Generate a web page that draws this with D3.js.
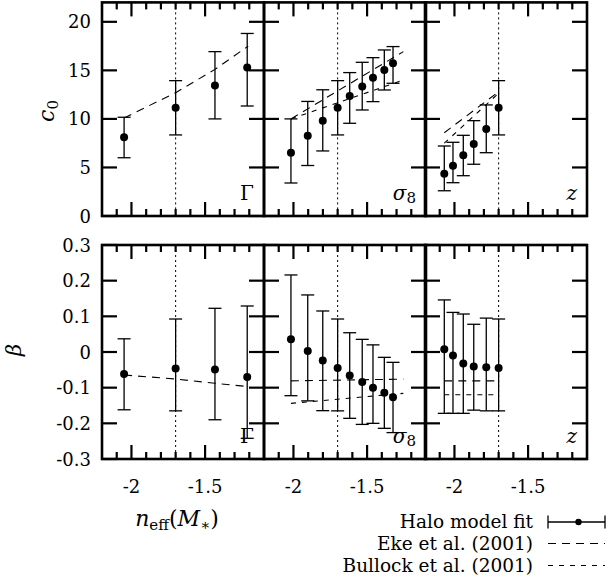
<!DOCTYPE html>
<html><head><meta charset="utf-8">
<script src="https://cdn.jsdelivr.net/npm/d3@7"></script>
<style>body{margin:0;background:#fff} text{font-family:"DejaVu Serif",serif;fill:#000}</style>
</head><body><svg id="c" width="609" height="588"></svg>
<script>
// ---------------- data ----------------
const xMajorTicks = [-2, -1.5];
const xTickLabels = ["-2", "-1.5"];
const cTicks = [0, 5, 10, 15, 20];
const cTickLabels = ["0", "5", "10", "15", "20"];
const bTicks = [-0.3, -0.2, -0.1, 0, 0.1, 0.2, 0.3];
const bTickLabels = ["-0.3", "-0.2", "-0.1", "0", "0.1", "0.2", "0.3"];
const fiducialN = -1.7;
const panelNames = ["Γ", "σ8", "z"];

// Gamma panel
const nGamma   = [-2.05, -1.70, -1.433, -1.214];
const cGamma   = [8.1, 11.16, 13.43, 15.3];
const cGammaLo = [6.0, 8.35, 10.0, 11.33];
const cGammaHi = [10.17, 13.94, 16.93, 18.8];
const ekeCGammaN = [-2.05, -1.70, -1.433, -1.207];
const ekeCGamma  = [10.1, 12.7, 15.1, 17.5];
const bGamma   = [-0.062, -0.046, -0.049, -0.070];
const bGammaLo = [-0.162, -0.165, -0.190, -0.242];
const bGammaHi = [0.037, 0.0925, 0.1225, 0.129];
const ekeBGammaN = [-2.05, -1.70, -1.433, -1.207];
const ekeBGamma  = [-0.0645, -0.0757, -0.0878, -0.097];

// sigma8 panel
const nSigma   = [-2.017, -1.903, -1.801, -1.70, -1.618, -1.533, -1.46, -1.383, -1.324];
const cSigma   = [6.52, 8.27, 9.82, 11.16, 12.36, 13.33, 14.25, 15.04, 15.73];
const cSigmaLo = [3.4, 5.2, 6.7, 8.35, 9.55, 10.92, 11.78, 12.98, 13.67];
const cSigmaHi = [10.0, 11.8, 13.0, 13.94, 14.77, 15.83, 16.31, 17.1, 17.45];
const ekeCSigmaN = [-2.017, -1.254];
const ekeCSigma  = [10.0, 16.93];
const bulCSigmaN = [-2.017, -1.254];
const bulCSigma  = [10.0, 14.0];
const bSigma   = [0.036, 0.003, -0.024, -0.045, -0.066, -0.084, -0.100, -0.114, -0.127];
const bSigmaLo = [-0.1225, -0.137, -0.1645, -0.165, -0.186, -0.203, -0.200, -0.214, -0.226];
const bSigmaHi = [0.216, 0.160, 0.115, 0.0925, 0.054, 0.0355, 0.020, -0.015, -0.029];
const ekeBSigmaN = [-2.017, -1.254];
const ekeBSigma  = [-0.081, -0.076];
const bulBSigmaN = [-2.017, -1.254];
const bulBSigma  = [-0.144, -0.116];

// z panel
const nZ   = [-2.069, -2.01, -1.94, -1.869, -1.784, -1.70];
const cZ   = [4.36, 5.18, 6.25, 7.42, 8.96, 11.16];
const cZLo = [2.6, 3.43, 4.15, 5.33, 6.52, 8.35];
const cZHi = [7.21, 7.59, 8.31, 9.82, 11.44, 13.94];
const ekeCZN = [-2.069, -1.70];
const ekeCZ  = [8.58, 12.8];
const bulCZN = [-2.069, -1.70];
const bulCZ  = [7.5, 12.65];
const bZ   = [0.0075, -0.010, -0.032, -0.041, -0.043, -0.045];
const bZLo = [-0.172, -0.172, -0.172, -0.163, -0.165, -0.165];
const bZHi = [0.146, 0.111, 0.1065, 0.0777, 0.095, 0.0925];
const ekeBZN = [-2.069, -1.70];
const ekeBZ  = [-0.081, -0.081];
const bulBZN = [-2.069, -1.70];
const bulBZ  = [-0.12, -0.12];

const legendLabels = ["Halo model fit", "Eke et al. (2001)", "Bullock et al. (2001)"];

// ---------------- layout ----------------
const svg = d3.select("#c");
const panelLefts = [102, 264, 425];
const panelW = 162;
const rows = [
  {top: 2.4, bottom: 216, domain: [0, 22], ticks: cTicks, labels: cTickLabels},
  {top: 245, bottom: 459, domain: [-0.3, 0.3], ticks: bTicks, labels: bTickLabels}
];
const FS = 18;
const EKE_DASH = "8,6";
const BUL_DASH = "5,6";

function zip(xs, ys) { return xs.map((x, i) => [x, ys[i]]); }

const panelData = [
  [ {n: nGamma, v: cGamma, lo: cGammaLo, hi: cGammaHi, eke: zip(ekeCGammaN, ekeCGamma), bul: null},
    {n: nSigma, v: cSigma, lo: cSigmaLo, hi: cSigmaHi, eke: zip(ekeCSigmaN, ekeCSigma), bul: zip(bulCSigmaN, bulCSigma)},
    {n: nZ, v: cZ, lo: cZLo, hi: cZHi, eke: zip(ekeCZN, ekeCZ), bul: zip(bulCZN, bulCZ)} ],
  [ {n: nGamma, v: bGamma, lo: bGammaLo, hi: bGammaHi, eke: zip(ekeBGammaN, ekeBGamma), bul: null},
    {n: nSigma, v: bSigma, lo: bSigmaLo, hi: bSigmaHi, eke: zip(ekeBSigmaN, ekeBSigma), bul: zip(bulBSigmaN, bulBSigma)},
    {n: nZ, v: bZ, lo: bZLo, hi: bZHi, eke: zip(ekeBZN, ekeBZ), bul: zip(bulBZN, bulBZ)} ]
];

rows.forEach((row, ri) => {
  const y = d3.scaleLinear().domain(row.domain).range([row.bottom, row.top]);
  panelLefts.forEach((left, pi) => {
    const x = d3.scaleLinear().domain([-2.2, -1.1]).range([left, left + panelW]);
    const g = svg.append("g");
    const d = panelData[ri][pi];
    // dotted fiducial
    g.append("line").attr("x1", x(fiducialN)).attr("x2", x(fiducialN))
      .attr("y1", row.top).attr("y2", row.bottom)
      .attr("stroke", "#000").attr("stroke-width", 1).attr("stroke-dasharray", "2,3");
    const line = d3.line().x(p => x(p[0])).y(p => y(p[1]));
    g.append("path").attr("d", line(d.eke)).attr("fill", "none")
      .attr("stroke", "#000").attr("stroke-width", 1.1).attr("stroke-dasharray", EKE_DASH);
    if (d.bul) g.append("path").attr("d", line(d.bul)).attr("fill", "none")
      .attr("stroke", "#000").attr("stroke-width", 1.1).attr("stroke-dasharray", BUL_DASH);
    // error bars
    d.n.forEach((nv, i) => {
      const cx = x(nv);
      g.append("line").attr("x1", cx).attr("x2", cx).attr("y1", y(d.lo[i])).attr("y2", y(d.hi[i]))
        .attr("stroke", "#000").attr("stroke-width", 1.3);
      [d.lo[i], d.hi[i]].forEach(e => {
        g.append("line").attr("x1", cx - 6.5).attr("x2", cx + 6.5).attr("y1", y(e)).attr("y2", y(e))
          .attr("stroke", "#000").attr("stroke-width", 1.3);
      });
      g.append("circle").attr("cx", cx).attr("cy", y(d.v[i])).attr("r", 4).attr("fill", "#000");
    });
    // x ticks
    const minor = x.ticks(11);
    minor.forEach(t => {
      if (Math.abs(t + 2.2) < 1e-6 || Math.abs(t + 1.1) < 1e-6) return;
      const major = xMajorTicks.some(m => Math.abs(m - t) < 1e-6);
      const L = major ? 14 : 7;
      g.append("line").attr("x1", x(t)).attr("x2", x(t)).attr("y1", row.bottom).attr("y2", row.bottom - L)
        .attr("stroke", "#000").attr("stroke-width", 2.2);
      g.append("line").attr("x1", x(t)).attr("x2", x(t)).attr("y1", row.top).attr("y2", row.top + L)
        .attr("stroke", "#000").attr("stroke-width", 2.2);
    });
    // y ticks
    row.ticks.forEach(t => {
      g.append("line").attr("x1", left).attr("x2", left + 15).attr("y1", y(t)).attr("y2", y(t))
        .attr("stroke", "#000").attr("stroke-width", 2.2);
      g.append("line").attr("x1", left + panelW).attr("x2", left + panelW - 15).attr("y1", y(t)).attr("y2", y(t))
        .attr("stroke", "#000").attr("stroke-width", 2.2);
    });
    // border
    g.append("rect").attr("x", left).attr("y", row.top).attr("width", panelW).attr("height", row.bottom - row.top)
      .attr("fill", "none").attr("stroke", "#000").attr("stroke-width", 2.6);
    // panel label
    const lab = g.append("text").attr("x", left + panelW - 10).attr("y", row.bottom - 16)
      .attr("text-anchor", "end").attr("font-size", 20);
    const name = panelNames[pi];
    if (name === "σ8") {
      lab.append("tspan").attr("font-style", "italic").text("σ");
      lab.append("tspan").attr("font-size", 15).attr("dy", 3).text("8");
    } else if (name === "z") {
      lab.attr("font-style", "italic").text("z");
    } else {
      lab.text(name);
    }
    // x tick labels (bottom row)
    if (ri === 1) {
      xMajorTicks.forEach((t, k) => {
        g.append("text").attr("x", x(t)).attr("y", 493).attr("text-anchor", "middle")
          .attr("font-size", FS).text(xTickLabels[k]);
      });
    }
    // y tick labels (first column)
    if (pi === 0) {
      row.ticks.forEach((t, k) => {
        g.append("text").attr("x", 91).attr("y", y(t) + 6.5).attr("text-anchor", "end")
          .attr("font-size", FS).text(row.labels[k]);
      });
    }
  });
});

// axis labels
const cl = svg.append("text").attr("transform", "translate(54,111) rotate(-90)")
  .attr("text-anchor", "middle").attr("font-size", 22);
cl.append("tspan").attr("font-style", "italic").text("c");
cl.append("tspan").attr("font-size", 15).attr("dy", 4).text("0");

svg.append("text").attr("transform", "translate(21,350) rotate(-90)")
  .attr("text-anchor", "middle").attr("font-size", 21).attr("font-style", "italic").text("β");

const xl = svg.append("text").attr("x", 177).attr("y", 526).attr("text-anchor", "middle").attr("font-size", 22);
xl.append("tspan").attr("font-style", "italic").text("n");
xl.append("tspan").attr("font-size", 15).attr("dy", 4).text("eff");
xl.append("tspan").attr("dy", -4).text("(");
xl.append("tspan").attr("font-style", "italic").text("M");
xl.append("tspan").attr("font-size", 15).attr("dy", 4).text("∗");
xl.append("tspan").attr("dy", -4).text(")");

// legend
const legY = [528, 550, 572];
const sx1 = 548, sx2 = 605;
legendLabels.forEach((t, i) => {
  svg.append("text").attr("x", 533).attr("y", legY[i]).attr("text-anchor", "end")
    .attr("font-size", 18.5).text(t);
});
const ly0 = legY[0] - 6;
svg.append("line").attr("x1", sx1).attr("x2", sx2).attr("y1", ly0).attr("y2", ly0).attr("stroke", "#000").attr("stroke-width", 1.3);
[sx1, sx2].forEach(xx => svg.append("line").attr("x1", xx).attr("x2", xx).attr("y1", ly0 - 6.5).attr("y2", ly0 + 6.5).attr("stroke", "#000").attr("stroke-width", 1.3));
svg.append("circle").attr("cx", (sx1 + sx2) / 2 + 2).attr("cy", ly0).attr("r", 3.2).attr("fill", "#000");
svg.append("line").attr("x1", sx1).attr("x2", sx2).attr("y1", legY[1] - 6.5).attr("y2", legY[1] - 6.5)
  .attr("stroke", "#000").attr("stroke-width", 1.1).attr("stroke-dasharray", EKE_DASH);
svg.append("line").attr("x1", sx1).attr("x2", sx2).attr("y1", legY[2] - 6.5).attr("y2", legY[2] - 6.5)
  .attr("stroke", "#000").attr("stroke-width", 1.1).attr("stroke-dasharray", BUL_DASH);
</script>
</body></html>
